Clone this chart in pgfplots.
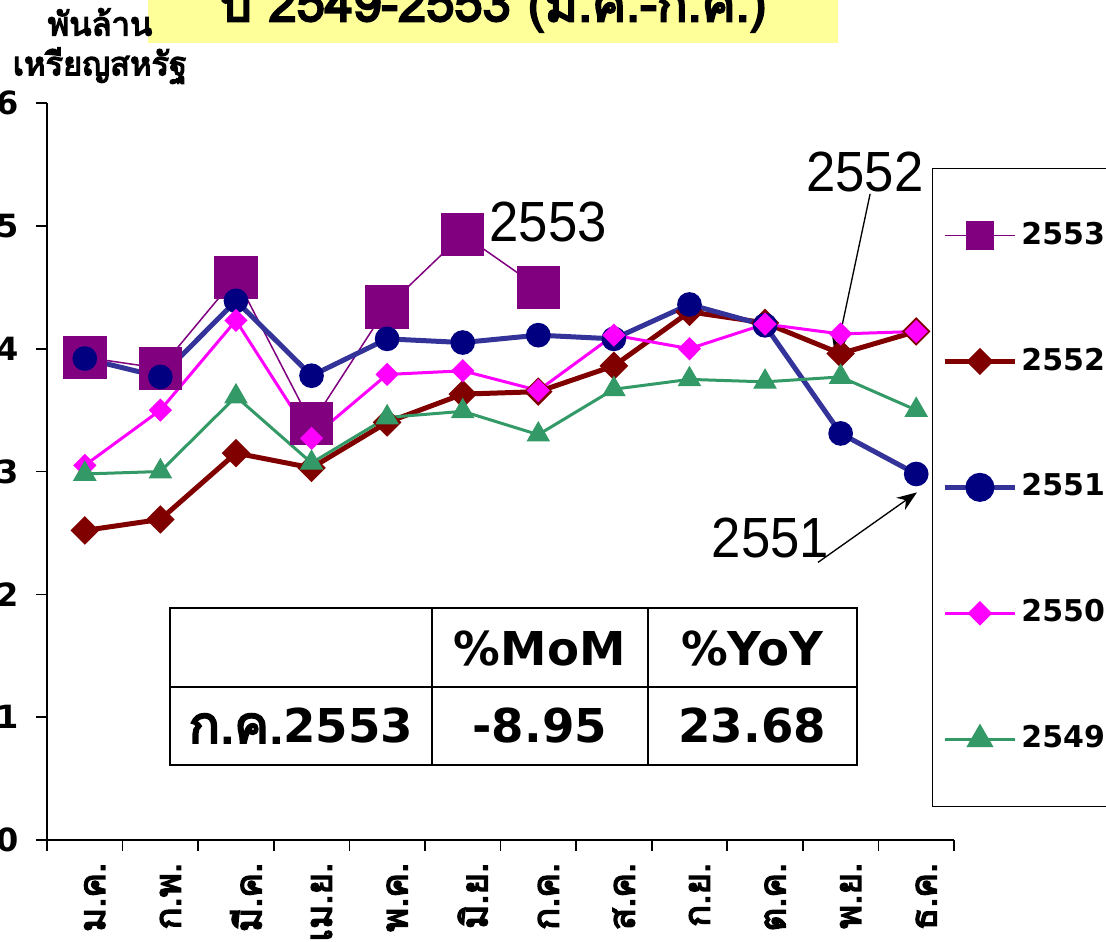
\documentclass[border=0pt]{standalone}
\usepackage{pgfplots}
\pgfplotsset{compat=1.18}
\usepackage{fontspec}
\setmainfont{DejaVu Sans}
\newfontfamily\thaifont[Script=Thai, BoldFont={Loma}, BoldFeatures={FakeBold=4}]{Loma}
\newfontfamily\annfont{Liberation Sans}
\usetikzlibrary{arrows.meta}

\definecolor{c2553}{HTML}{800080}
\definecolor{c2552}{HTML}{800000}
\definecolor{c2551line}{HTML}{333399}
\definecolor{c2551}{HTML}{000080}
\definecolor{c2550}{HTML}{FF00FF}
\definecolor{c2549}{HTML}{339966}
\definecolor{titlebg}{HTML}{FFFF99}

\begin{document}
\begin{tikzpicture}
\begin{axis}[
    at={(0,0)}, anchor=south west,
    scale only axis,
    width=272.1pt, height=221.1pt,
    xmin=-0.5, xmax=11.5, ymin=0, ymax=6,
    axis x line=bottom, axis y line=left,
    axis line style={-, line width=0.6pt},
    tick align=outside, major tick length=3.3pt,
    tick style={line width=0.5pt, black},
    xtick={-0.5,0.5,...,11.5},
    x tick label as interval,
    xticklabels={ม.ค.,ก.พ.,มี.ค.,เม.ย.,พ.ค.,มิ.ย.,ก.ค.,ส.ค.,ก.ย.,ต.ค.,พ.ย.,ธ.ค.},
    xticklabel style={font=\thaifont\bfseries\fontsize{11}{13}\selectfont, rotate=90, anchor=east, yshift=-3pt},
    ytick={0,...,6},
    yticklabel style={font=\bfseries\fontsize{9.6}{11}\selectfont, xshift=-1.6pt},
    /pgf/number format/assume math mode=true,
    clip=false,
    legend style={at={(axis description cs:0.9757,0.9118)}, anchor=north west,
        draw=black, line width=0.3pt, font=\bfseries\fontsize{9}{11}\selectfont,
        row sep=25.6pt, inner xsep=3pt, inner ysep=14pt,
        nodes={inner xsep=1.2pt}},
    legend cell align=left,
    legend image code/.code={\draw[mark repeat=2,mark phase=2,#1] plot coordinates {(0pt,0pt) (10.5pt,0pt) (21pt,0pt)};},
]
% 2553
\addplot[forget plot, color=c2553, line width=0.45pt, mark=square*, mark size=6.3pt, mark options={fill=c2553, draw=c2553}] coordinates {
 (0,3.93) (1,3.84) (2,4.58) (3,3.39) (4,4.34) (5,4.93) (6,4.50)
};
% 2552
\addplot[forget plot, color=c2552, line width=1.5pt, mark=diamond*, mark size=4pt, mark options={fill=c2552, draw=c2552, line width=0.4pt, xscale=1.333}] coordinates {
 (0,2.52) (1,2.61) (2,3.15) (3,3.03) (4,3.40) (5,3.63) (6,3.65) (7,3.86) (8,4.30) (9,4.21) (10,3.96) (11,4.14)
};
% 2551
\addplot[forget plot, color=c2551line, line width=1.5pt, mark=*, mark size=3.5pt, mark options={fill=c2551, draw=c2551, line width=0.4pt}] coordinates {
 (0,3.92) (1,3.77) (2,4.39) (3,3.78) (4,4.08) (5,4.05) (6,4.11) (7,4.08) (8,4.36) (9,4.19) (10,3.31) (11,2.98)
};
% 2550
\addplot[forget plot, color=c2550, line width=0.9pt, mark=diamond*, mark size=3.2pt, mark options={fill=c2550, draw=c2550, line width=0.4pt, xscale=1.333}] coordinates {
 (0,3.05) (1,3.50) (2,4.23) (3,3.27) (4,3.79) (5,3.82) (6,3.66) (7,4.11) (8,4.00) (9,4.20) (10,4.12) (11,4.14)
};
% 2549
\addplot[forget plot, color=c2549, line width=0.9pt, mark=triangle*, mark size=3.8pt, mark options={fill=c2549, draw=c2549, line width=0.3pt}] coordinates {
 (0,2.98) (1,3.00) (2,3.61) (3,3.07) (4,3.44) (5,3.49) (6,3.30) (7,3.67) (8,3.75) (9,3.73) (10,3.77) (11,3.50)
};

\addlegendimage{color=c2553, line width=0.45pt, mark=square*, mark size=4pt, mark options={fill=c2553}}
\addlegendentry{2553}
\addlegendimage{color=c2552, line width=1.5pt, mark=diamond*, mark size=3.8pt, mark options={fill=c2552, line width=0.4pt, xscale=1.333}}
\addlegendentry{2552}
\addlegendimage{color=c2551line, line width=1.5pt, mark=*, mark size=3.6pt, mark options={fill=c2551, draw=c2551}}
\addlegendentry{2551}
\addlegendimage{color=c2550, line width=0.9pt, mark=diamond*, mark size=3.4pt, mark options={fill=c2550, line width=0.4pt, xscale=1.333}}
\addlegendentry{2550}
\addlegendimage{color=c2549, line width=0.9pt, mark=triangle*, mark size=3.8pt, mark options={fill=c2549}}
\addlegendentry{2549}

% annotations
\node[font=\annfont\fontsize{17}{20}\selectfont, xscale=0.93] at (axis cs:6.13,5.03) {2553};
\node[font=\annfont\fontsize{17}{20}\selectfont, xscale=0.93] at (axis cs:10.32,5.44) {2552};
\node[font=\annfont\fontsize{17}{20}\selectfont, xscale=0.93] at (axis cs:9.07,2.46) {2551};
\draw[-{Stealth[length=6pt,width=4.5pt]}, line width=0.4pt] (axis cs:10.39,5.26) -- (axis cs:9.93,3.93);
\draw[-{Stealth[length=6pt,width=4.5pt]}, line width=0.4pt] (axis cs:9.70,2.26) -- (axis cs:11.01,2.83);

% summary table
\draw[line width=0.7pt, fill=white] (axis cs:1.127,0.611) rectangle (axis cs:10.217,1.889);
\draw[line width=0.7pt] (axis cs:1.127,1.246) -- (axis cs:10.217,1.246);
\draw[line width=0.7pt] (axis cs:4.594,0.611) -- (axis cs:4.594,1.889);
\draw[line width=0.7pt] (axis cs:7.452,0.611) -- (axis cs:7.452,1.889);
\node[font=\bfseries\fontsize{14}{16}\selectfont] at (axis cs:6.02,1.56) {\%MoM};
\node[font=\bfseries\fontsize{14}{16}\selectfont] at (axis cs:8.83,1.56) {\%YoY};
\node[font=\bfseries\fontsize{14}{16}\selectfont] at (axis cs:2.86,0.93) {{\thaifont\bfseries\fontsize{15.5}{16}\selectfont ก.ค.}2553};
\node[font=\bfseries\fontsize{14}{16}\selectfont] at (axis cs:6.02,0.93) {-8.95};
\node[font=\bfseries\fontsize{14}{16}\selectfont] at (axis cs:8.83,0.93) {23.68};
\end{axis}

% title box (cut at top of the picture)
\fill[titlebg] (30.3pt,239.1pt) rectangle (237.3pt,262pt);
\node[font=\thaifont\bfseries\fontsize{15.2}{18}\selectfont, anchor=base] at (133.8pt,245.6pt) {ปี 2549-2553 (ม.ค.-ก.ค.)};
% y unit label
\node[font=\thaifont\bfseries\fontsize{9.8}{11}\selectfont] at (15.9pt,245.4pt) {พันล้าน};
\node[font=\thaifont\bfseries\fontsize{9.8}{11}\selectfont] at (15.9pt,232.3pt) {เหรียญสหรัฐ};

\pgfresetboundingbox
\path[use as bounding box] (-14.1pt,-30.3pt) rectangle (317.7pt,252pt);
\end{tikzpicture}
\end{document}
